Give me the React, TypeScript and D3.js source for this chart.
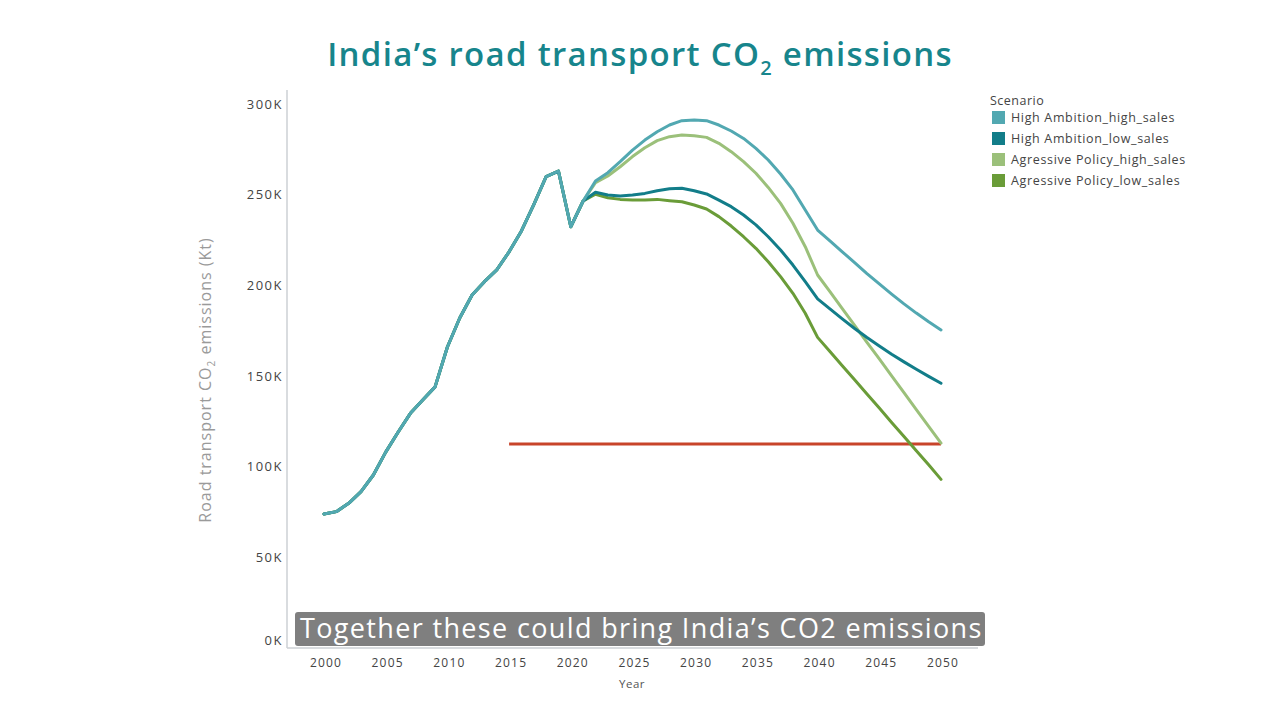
import React from "react";
import * as d3 from "d3";

const years: number[] = d3.range(2000, 2051);

const history: number[] = [
  73.9, 75.2, 79.8, 86.2, 95.4, 108, 119, 129.4, 136.8, 144,
  166, 182, 194.7, 202, 208.5, 218.5, 230, 244.5, 260, 263, 232.3, 246.5,
];

const haHigh: number[] = [
  257.5, 262.1, 268.2, 274.6, 280.1, 284.7, 288.4, 290.8, 291.2, 290.8,
  288.4, 285.1, 281, 275.5, 269.1, 261.4, 252.6, 241.5, 230.5,
  224.5, 218.5, 212.5, 206.5, 200.8, 195.2, 189.8, 184.7, 179.9, 175.4,
];
const haLow: number[] = [
  251.3, 249.8, 249.3, 249.8, 250.7, 252.2, 253.3, 253.5, 252.2, 250.4,
  247, 243.4, 238.8, 233.3, 226.8, 219.5, 211.2, 202, 192.5,
  187, 181.5, 176.2, 171.2, 166.5, 162, 157.8, 153.7, 149.8, 146,
];
const apHigh: number[] = [
  256.6, 260.3, 265.4, 271, 275.9, 279.8, 282, 282.9, 282.5, 281.6,
  278.3, 273.7, 268.2, 261.8, 254, 245.2, 234.2, 221.3, 205.7,
  196.5, 187.2, 177.9, 168.6, 159.4, 150.1, 140.8, 131.5, 122.2, 113,
];
const apLow: number[] = [
  250.2, 248.3, 247.4, 247, 247, 247.4, 246.7, 246.1, 244.3, 242.1,
  237.9, 232.7, 226.8, 220.4, 213, 204.8, 195.6, 184.6, 171.3,
  163.5, 155.7, 147.9, 140.1, 132.3, 124.4, 116.6, 108.8, 101, 93,
];

const seriesNames: string[] = [
  "High Ambition_high_sales",
  "High Ambition_low_sales",
  "Agressive Policy_high_sales",
  "Agressive Policy_low_sales",
];
const seriesColors: string[] = ["#52a8b1", "#127d89", "#9bc07a", "#6a9c38"];
const seriesValues: number[][] = [haHigh, haLow, apHigh, apLow];

const targetYears: number[] = [2015, 2050];
const targetValue = 112.5;

const yTicks: number[] = [0, 50, 100, 150, 200, 250, 300];
const xTicks: number[] = d3.range(2000, 2051, 5);

const FONT = "'Open Sans', 'DejaVu Sans', sans-serif";

export default function App() {
  const x = d3.scaleLinear().domain([2000, 2050]).range([324, 941]);
  const y = d3.scaleLinear().domain([0, 300]).range([648, 104]);

  const line = d3
    .line<[number, number]>()
    .x((d) => x(d[0]))
    .y((d) => y(d[1]));

  const fullSeries = seriesValues.map((vals) =>
    years.map((yr, i) => [yr, i < history.length ? history[i] : vals[i - history.length]] as [number, number])
  );

  const drawOrder = [3, 2, 1, 0];

  return (
    <div style={{ position: "fixed", left: 0, top: 0, width: 1280, height: 720, background: "#fff" }}>
      <svg width={1280} height={720} style={{ display: "block" }}>
        <defs>
          <clipPath id="legendClip">
            <rect x={980} y={85} width={206} height={120} />
          </clipPath>
        </defs>
        {/* Title */}
        <text
          x={640}
          y={66}
          textAnchor="middle"
          fontFamily={FONT}
          fontWeight={600}
          fontSize={33}
          letterSpacing={1.3}
          fill="#17858c"
        >
          India’s road transport CO
          <tspan fontSize={20} dy={9}>2</tspan>
          <tspan dy={-9}> emissions</tspan>
        </text>

        {/* Axes lines */}
        <line x1={287} x2={287} y1={90} y2={648} stroke="#cdd1d4" strokeWidth={1.5} />
        <line x1={287} x2={978} y1={648} y2={648} stroke="#cdd1d4" strokeWidth={1.5} />

        {/* Y ticks */}
        {yTicks.map((t) => (
          <text
            key={t}
            x={283}
            y={t === 0 ? y(t) - 8 : y(t)}
            dy="0.35em"
            textAnchor="end"
            fontFamily={FONT}
            fontSize={13}
            letterSpacing={1.5}
            fill="#444"
          >
            {t}K
          </text>
        ))}

        {/* X ticks */}
        {xTicks.map((t) => (
          <text key={t} x={x(t) + 2} y={667} textAnchor="middle" fontFamily={FONT} fontSize={12} letterSpacing={1.2} fill="#444">
            {t}
          </text>
        ))}
        <text x={632} y={688} textAnchor="middle" fontFamily={FONT} fontSize={11.5} letterSpacing={0.5} fill="#555">
          Year
        </text>

        {/* Y title */}
        <text
          transform="translate(211,380) rotate(-90)"
          textAnchor="middle"
          fontFamily={FONT}
          fontSize={16}
          letterSpacing={1}
          fill="#9a9a9a"
        >
          Road transport CO
          <tspan fontSize={10} dy={4}>2</tspan>
          <tspan dy={-4}> emissions (Kt)</tspan>
        </text>

        {/* Target line */}
        <line
          x1={x(targetYears[0])}
          x2={x(targetYears[1])}
          y1={y(targetValue)}
          y2={y(targetValue)}
          stroke="#c8442a"
          strokeWidth={3}
        />

        {/* Series */}
        {drawOrder.map((i) => (
          <path
            key={i}
            d={line(fullSeries[i]) || ""}
            fill="none"
            stroke={seriesColors[i]}
            strokeWidth={3}
            strokeLinejoin="round"
            strokeLinecap="round"
          />
        ))}

        {/* Legend */}
        <g clipPath="url(#legendClip)">
          <text x={990} y={105} fontFamily={FONT} fontSize={12.5} letterSpacing={0.5} fill="#444">
            Scenario
          </text>
          {seriesNames.map((n, i) => (
            <g key={n} transform={`translate(992,${111 + i * 21})`}>
              <rect width={13} height={13} fill={seriesColors[i]} />
              <text x={19} y={11} fontFamily={FONT} fontSize={12.5} letterSpacing={0.65} fill="#444">
                {n}
              </text>
            </g>
          ))}
        </g>

        {/* Subtitle caption */}
        <rect x={295} y={612} width={690} height={34} rx={3} fill="#7f7f7f" />
        <text x={300} y={638} fontFamily={FONT} fontSize={27} letterSpacing={1.35} fill="#ffffff">
          Together these could bring India’s CO2 emissions
        </text>
      </svg>
    </div>
  );
}
